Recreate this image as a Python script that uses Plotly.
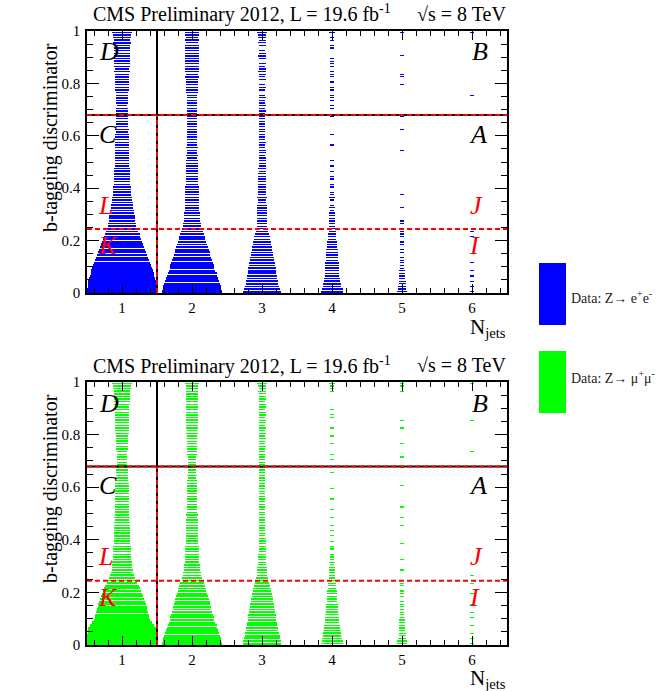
import plotly.graph_objects as go

# ---------------- data ----------------
NJETS = [1, 2, 3, 4, 5, 6]
Y_TICKS = [0, 0.2, 0.4, 0.6, 0.8, 1.0]
Y_TICKTEXT = ["0", "0.2", "0.4", "0.6", "0.8", "1"]
CSV_TIGHT = 0.679
CSV_LOOSE = 0.244
# box size (percent of a bin) per b-tag bin (0.01 wide, 100 bins), per jet multiplicity
ee_nj1 = [100, 99, 98, 97, 96, 94, 92, 90, 88, 86,
          82, 79, 76, 73, 71, 68, 66, 63, 61, 58,
          55, 52, 50, 46, 42, 40, 39, 38, 37, 36,
          35, 33, 32, 31, 30, 29, 28, 27, 26, 25,
          25, 24, 24, 23, 23, 22, 22, 22, 21, 21,
          21, 20, 21, 20, 20, 19, 20, 19, 19, 20,
          19, 18, 19, 18, 18, 17, 18, 17, 17, 16,
          16, 15, 16, 16, 17, 18, 18, 19, 19, 20,
          20, 21, 20, 21, 22, 21, 22, 22, 23, 22,
          23, 23, 24, 23, 24, 25, 24, 25, 26, 28]
ee_nj2 = [86, 84, 82, 79, 76, 74, 72, 70, 67, 64,
          62, 59, 56, 54, 52, 50, 48, 45, 43, 41,
          38, 36, 33, 31, 28, 26, 25, 24, 23, 22,
          22, 21, 21, 20, 20, 20, 19, 19, 19, 19,
          19, 18, 18, 18, 17, 17, 17, 16, 17, 16,
          16, 15, 16, 15, 15, 16, 15, 15, 14, 15,
          15, 14, 15, 14, 14, 15, 14, 14, 13, 14,
          14, 13, 14, 14, 15, 15, 16, 16, 17, 17,
          18, 18, 19, 18, 19, 19, 20, 19, 19, 20,
          19, 20, 19, 20, 19, 18, 19, 18, 19, 21]
ee_nj3 = [54, 52, 49, 47, 45, 44, 43, 41, 40, 39,
          37, 36, 34, 33, 32, 31, 29, 28, 27, 26,
          24, 22, 20, 18, 16, 15, 15, 14, 14, 14,
          14, 13, 13, 13, 12, 12, 13, 12, 12, 12,
          12, 11, 11, 12, 11, 11, 10, 11, 10, 10,
          10, 10, 9, 10, 10, 9, 9, 10, 9, 9,
          9, 9, 8, 9, 9, 8, 9, 8, 9, 10,
          9, 10, 8, 9, 10, 9, 0, 9, 10, 9,
          0, 10, 9, 10, 11, 10, 9, 10, 0, 10,
          11, 10, 9, 0, 10, 11, 10, 11, 12, 15]
ee_nj4 = [32, 30, 27, 25, 23, 22, 21, 21, 20, 20,
          19, 19, 18, 17, 17, 16, 16, 15, 14, 13,
          12, 12, 11, 10, 10, 9, 9, 8, 8, 8,
          8, 7, 8, 7, 0, 7, 8, 7, 7, 0,
          7, 7, 0, 7, 7, 0, 7, 0, 7, 0,
          7, 0, 0, 0, 0, 0, 7, 0, 0, 0,
          7, 0, 0, 0, 0, 0, 0, 7, 0, 0,
          7, 7, 0, 7, 7, 7, 0, 7, 7, 0,
          7, 0, 7, 7, 7, 0, 7, 7, 7, 7,
          0, 0, 0, 7, 7, 0, 7, 7, 0, 9]
ee_nj5 = [15, 12, 11, 10, 10, 9, 9, 8, 8, 7,
          7, 6, 7, 6, 0, 6, 6, 0, 6, 6,
          0, 6, 6, 5, 6, 0, 5, 6, 0, 0,
          0, 0, 5, 0, 0, 0, 0, 5, 0, 0,
          0, 0, 0, 0, 0, 0, 0, 0, 0, 0,
          0, 0, 0, 0, 5, 0, 0, 0, 0, 0,
          0, 0, 5, 0, 0, 0, 0, 5, 0, 0,
          0, 0, 0, 0, 0, 0, 0, 0, 0, 5,
          0, 0, 5, 5, 0, 0, 0, 0, 0, 0,
          5, 0, 0, 0, 0, 0, 0, 0, 0, 7]
ee_nj6 = [5, 0, 5, 0, 5, 0, 5, 0, 5, 0,
          0, 5, 0, 0, 0, 0, 0, 0, 0, 0,
          0, 5, 0, 5, 0, 0, 0, 0, 0, 0,
          0, 0, 0, 0, 0, 0, 0, 0, 0, 0,
          0, 0, 0, 0, 0, 0, 0, 0, 0, 0,
          0, 0, 0, 0, 0, 0, 0, 0, 0, 0,
          0, 0, 0, 0, 0, 0, 0, 0, 0, 0,
          0, 0, 0, 0, 0, 5, 0, 0, 0, 0,
          0, 0, 0, 0, 0, 0, 0, 0, 0, 0,
          0, 0, 0, 0, 0, 0, 0, 0, 0, 6]

mm_nj1 = [100, 100, 99, 99, 98, 97, 96, 91, 86, 80,
          78, 76, 74, 72, 70, 68, 66, 63, 61, 58,
          55, 52, 48, 44, 40, 37, 34, 32, 30, 29,
          28, 28, 27, 27, 26, 26, 25, 25, 24, 24,
          24, 23, 23, 23, 22, 22, 22, 21, 22, 21,
          21, 21, 20, 21, 20, 20, 20, 19, 20, 19,
          19, 19, 18, 18, 17, 17, 16, 16, 15, 15,
          14, 14, 15, 15, 16, 16, 17, 17, 18, 18,
          19, 19, 19, 20, 20, 20, 20, 21, 21, 21,
          21, 22, 22, 23, 23, 24, 24, 25, 26, 28]
mm_nj2 = [85, 84, 82, 80, 77, 75, 72, 70, 67, 64,
          62, 60, 57, 55, 53, 51, 50, 49, 46, 44,
          41, 39, 37, 34, 30, 28, 26, 25, 24, 23,
          22, 21, 21, 20, 20, 19, 19, 19, 18, 18,
          18, 18, 17, 17, 17, 16, 16, 16, 15, 16,
          15, 15, 15, 14, 15, 14, 14, 14, 13, 14,
          13, 13, 13, 12, 13, 12, 12, 12, 12, 12,
          12, 12, 13, 13, 13, 14, 14, 14, 15, 15,
          16, 15, 16, 16, 17, 16, 17, 17, 16, 17,
          17, 17, 16, 17, 16, 17, 17, 18, 18, 20]
mm_nj3 = [54, 53, 51, 50, 48, 46, 45, 44, 42, 41,
          40, 39, 37, 36, 35, 33, 32, 31, 30, 29,
          27, 26, 24, 21, 18, 16, 15, 14, 13, 13,
          12, 12, 11, 11, 11, 10, 10, 10, 10, 10,
          10, 9, 10, 9, 9, 10, 9, 9, 9, 9,
          9, 9, 8, 9, 9, 8, 9, 8, 9, 8,
          9, 8, 8, 9, 8, 8, 9, 8, 9, 9,
          9, 9, 8, 9, 9, 10, 9, 9, 10, 9,
          10, 9, 10, 9, 10, 10, 9, 10, 10, 9,
          10, 10, 9, 10, 10, 10, 11, 10, 11, 13]
mm_nj4 = [32, 30, 28, 27, 26, 25, 23, 22, 21, 21,
          20, 19, 18, 17, 17, 16, 15, 15, 14, 13,
          13, 12, 12, 11, 10, 9, 9, 8, 8, 8,
          7, 8, 7, 7, 7, 0, 7, 7, 0, 7,
          0, 7, 0, 7, 0, 7, 0, 0, 7, 0,
          0, 7, 0, 0, 0, 7, 0, 0, 0, 7,
          0, 0, 0, 0, 0, 7, 0, 0, 0, 0,
          7, 0, 7, 0, 0, 0, 7, 0, 0, 7,
          0, 0, 7, 0, 0, 0, 7, 7, 0, 7,
          0, 0, 0, 0, 0, 0, 7, 7, 7, 9]
mm_nj5 = [15, 13, 11, 10, 10, 9, 9, 9, 8, 8,
          7, 7, 7, 6, 7, 6, 6, 0, 6, 6,
          6, 0, 6, 5, 0, 0, 0, 0, 5, 0,
          0, 0, 5, 0, 0, 0, 0, 0, 5, 0,
          0, 0, 0, 0, 0, 5, 0, 0, 5, 0,
          0, 0, 5, 0, 0, 0, 0, 0, 0, 0,
          5, 0, 0, 0, 0, 0, 0, 5, 0, 0,
          0, 5, 0, 0, 0, 0, 5, 0, 0, 0,
          0, 0, 5, 0, 0, 5, 0, 0, 0, 0,
          0, 0, 0, 0, 0, 0, 5, 0, 5, 6]
mm_nj6 = [5, 0, 5, 0, 5, 0, 0, 5, 0, 0,
          5, 0, 5, 0, 0, 5, 0, 0, 0, 5,
          0, 0, 0, 5, 0, 0, 5, 0, 0, 0,
          0, 0, 0, 0, 0, 0, 0, 0, 0, 0,
          0, 0, 0, 0, 0, 0, 0, 0, 0, 0,
          0, 0, 0, 0, 0, 0, 0, 0, 0, 0,
          0, 0, 0, 0, 0, 0, 0, 0, 0, 0,
          0, 0, 0, 5, 0, 0, 0, 0, 0, 0,
          0, 0, 0, 0, 0, 5, 0, 0, 0, 0,
          0, 0, 0, 0, 0, 0, 0, 0, 0, 6]

EE = [ee_nj1, ee_nj2, ee_nj3, ee_nj4, ee_nj5, ee_nj6]
MM = [mm_nj1, mm_nj2, mm_nj3, mm_nj4, mm_nj5, mm_nj6]

BIN_W = 0.01
W, H = 662, 691
SERIF = "Liberation Serif"


def box_trace(cols, color, xa, ya):
    ys, ws, bases, hs = [], [], [], []
    for xc, col in zip(NJETS, cols):
        for i, v in enumerate(col):
            if v <= 0:
                continue
            w = v / 100.0
            ys.append((i + 0.5) * BIN_W)
            ws.append(w)
            bases.append(xc - w / 2)
            hs.append(BIN_W * min(1.03, 0.42 + 0.61 * w))
    # colour alpha just below 1 makes plotly round bar edges to whole pixels
    # instead of expanding thin bars, which keeps the striped box look
    return go.Bar(orientation="h", y=ys, x=ws, base=bases, width=hs,
                  marker=dict(color=color, line=dict(width=0)),
                  xaxis=xa, yaxis=ya, showlegend=False, hoverinfo="skip")


fig = go.Figure()
fig.add_trace(box_trace(EE, "rgba(0,0,255,0.995)", "x", "y"))
fig.add_trace(box_trace(MM, "rgba(0,255,0,0.995)", "x2", "y2"))

XDOM = [87 / W, 507 / W]
TOP_DOM = [1 - 293 / H, 1 - 31 / H]
BOT_DOM = [1 - 645 / H, 1 - 382 / H]

xcommon = dict(range=[0.5, 6.5], tickvals=NJETS, ticks="inside", ticklen=9,
               tickwidth=1, tickcolor="black", showline=True, linecolor="black",
               linewidth=1.5, mirror="allticks", showgrid=False, zeroline=False,
               automargin=False,
               tickfont=dict(family=SERIF, size=15, color="black"),
               minor=dict(dtick=0.2, tick0=0, ticks="inside", ticklen=5,
                          tickcolor="black", showgrid=False),
               domain=XDOM, fixedrange=True)
ycommon = dict(range=[0, 1], tickvals=Y_TICKS, ticktext=Y_TICKTEXT, ticks="inside",
               ticklen=12, tickwidth=1, tickcolor="black", showline=True,
               linecolor="black", linewidth=1.5, mirror="allticks", showgrid=False,
               zeroline=False, automargin=False,
               tickfont=dict(family=SERIF, size=15, color="black"),
               minor=dict(dtick=0.05, tick0=0, ticks="inside", ticklen=6,
                          tickcolor="black", showgrid=False),
               fixedrange=True, ticklabelstandoff=2)

shapes = []
annotations = []


def panel_decor(xr, yr, top_px):
    # separation lines
    shapes.append(dict(type="line", xref=xr, yref=yr, x0=0.5, x1=6.5, y0=CSV_TIGHT,
                       y1=CSV_TIGHT, line=dict(color="black", width=2)))
    shapes.append(dict(type="line", xref=xr, yref=yr, x0=0.5, x1=6.5, y0=CSV_TIGHT,
                       y1=CSV_TIGHT, line=dict(color="red", width=2, dash="5px,3px")))
    shapes.append(dict(type="line", xref=xr, yref=yr, x0=1.5, x1=1.5, y0=0, y1=1,
                       line=dict(color="black", width=2)))
    shapes.append(dict(type="line", xref=xr, yref=yr, x0=1.5, x1=1.5, y0=0,
                       y1=CSV_TIGHT, line=dict(color="red", width=2, dash="5px,3px")))
    shapes.append(dict(type="line", xref=xr, yref=yr, x0=0.5, x1=6.5, y0=CSV_LOOSE,
                       y1=CSV_LOOSE, line=dict(color="red", width=2, dash="5px,3px")))
    # region labels
    labels = [("D", 0.82, 0.92, "black"), ("C", 0.80, 0.605, "black"),
              ("L", 0.77, 0.335, "red"), ("K", 0.80, 0.18, "red"),
              ("B", 6.11, 0.92, "black"), ("A", 6.09, 0.605, "black"),
              ("J", 6.07, 0.335, "red"), ("I", 6.04, 0.18, "red")]
    for t, x, y, c in labels:
        annotations.append(dict(text=f"<i>{t}</i>", x=x, y=y, xref=xr, yref=yr,
                                showarrow=False, xanchor="center", yanchor="middle",
                                font=dict(family=SERIF, size=26, color=c)))
    # titles
    annotations.append(dict(text="CMS Preliminary 2012, L = 19.6 fb<sup>-1</sup>",
                            x=91 / W, y=1 - (top_px - 17) / H, xref="paper", yref="paper",
                            showarrow=False, xanchor="left", yanchor="middle",
                            font=dict(family=SERIF, size=20, color="black")))
    annotations.append(dict(text="\u221as = 8 TeV", x=508 / W, y=1 - (top_px - 17) / H,
                            xref="paper", yref="paper", showarrow=False,
                            xanchor="right", yanchor="middle",
                            font=dict(family=SERIF, size=20, color="black")))
    annotations.append(dict(text="b-tagging discriminator", textangle=-90,
                            x=50 / W, y=1 - (top_px + 107) / H, xref="paper",
                            yref="paper", showarrow=False, xanchor="center",
                            yanchor="middle",
                            font=dict(family=SERIF, size=20, color="black")))
    annotations.append(dict(text="N<sub>jets</sub>", x=508 / W,
                            y=1 - (top_px + 297) / H, xref="paper", yref="paper",
                            showarrow=False, xanchor="right", yanchor="middle",
                            font=dict(family=SERIF, size=21, color="black")))


panel_decor("x", "y", 31)
panel_decor("x2", "y2", 382)

# legend boxes
for (y0, y1, color, text, ty) in [(263, 325, "#0000ff", "Data: Z\u2192 e<sup>+</sup>e<sup>-</sup>", 297),
                                  (351, 413, "#00ff00", "Data: Z\u2192 \u03bc<sup>+</sup>\u03bc<sup>-</sup>", 377)]:
    shapes.append(dict(type="rect", xref="paper", yref="paper", x0=539 / W, x1=566 / W,
                       y0=1 - y1 / H, y1=1 - y0 / H, fillcolor=color,
                       line=dict(width=0)))
    annotations.append(dict(text=text, x=569 / W, y=1 - ty / H, xref="paper",
                            yref="paper", showarrow=False, xanchor="left",
                            yanchor="middle",
                            font=dict(family=SERIF, size=14, color="#222222")))

fig.update_layout(
    template="none",
    width=W, height=H, margin=dict(l=0, r=0, t=0, b=0, pad=0),
    paper_bgcolor="white", plot_bgcolor="white", barmode="overlay", bargap=0,
    xaxis=dict(xcommon, anchor="y"),
    yaxis=dict(ycommon, domain=TOP_DOM, anchor="x"),
    xaxis2=dict(xcommon, anchor="y2"),
    yaxis2=dict(ycommon, domain=BOT_DOM, anchor="x2"),
    shapes=shapes, annotations=annotations, showlegend=False,
)

fig.write_html("out.html")
